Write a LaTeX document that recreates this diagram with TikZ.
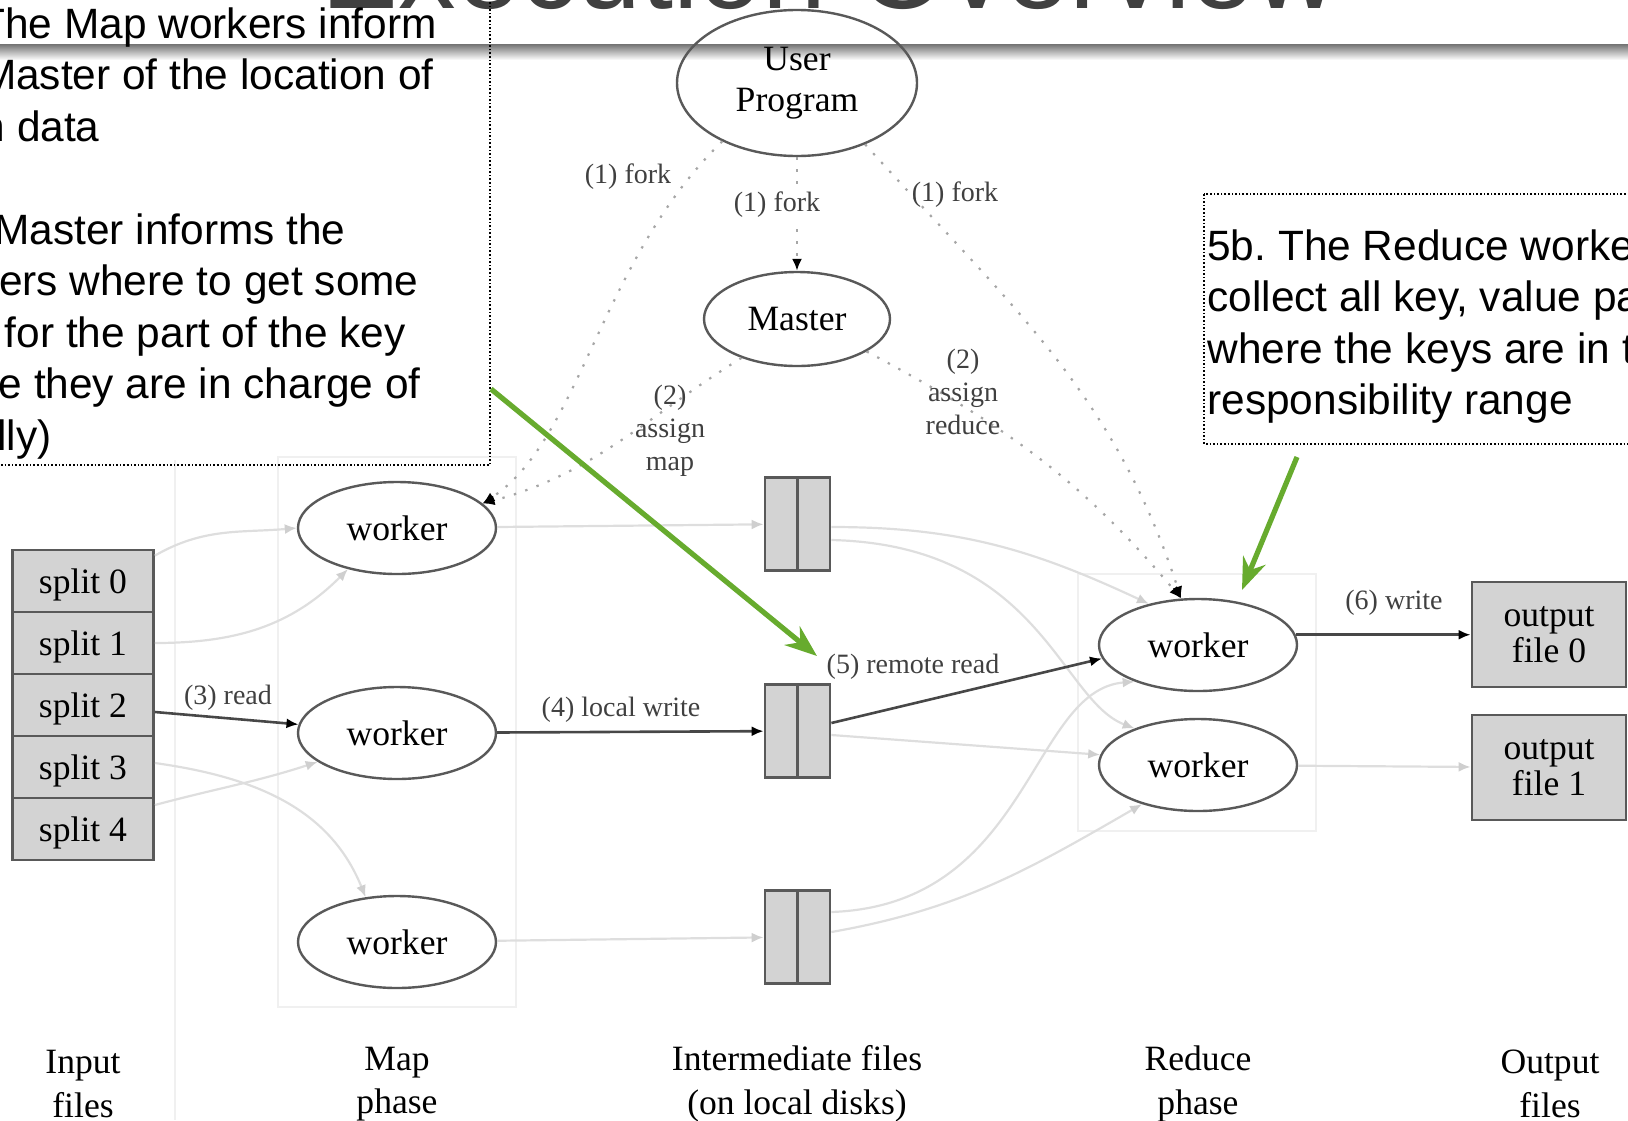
\documentclass[tikz,border=0pt]{standalone}
\usepackage{fontspec}
\setmainfont{Liberation Serif}
\newfontfamily\slidefont{Liberation Sans}
\usetikzlibrary{positioning,arrows.meta,shapes.geometric}
\frenchspacing

\definecolor{filegray}{HTML}{D3D3D3}
\definecolor{linegray}{HTML}{474747}
\definecolor{palegray}{HTML}{DEDEDE}
\definecolor{tipgray}{HTML}{CFCFCF}
\definecolor{hintgreen}{HTML}{67AB2E}

\begin{document}
\begin{tikzpicture}[x=0.5pt, y=-0.5pt,
    proc/.style={ellipse, draw=black!65, line width=1.2pt, inner sep=0pt,
      minimum width=99pt, minimum height=46pt, align=center,
      font=\fontsize{17.8}{20.8}\selectfont},
    filebox/.style={rectangle, draw=black!65, line width=1.4pt, fill=filegray,
      inner sep=0pt, align=center, text depth=0pt, font=\fontsize{17.8}{18}\selectfont},
    lbl/.style={inner sep=0pt, text=black!75, align=center,
      font=\fontsize{14}{16.5}\selectfont},
    phase/.style={inner sep=0pt, align=center,
      font=\fontsize{17.8}{21.8}\selectfont},
    note/.style={inner sep=0pt, font=\slidefont\fontsize{21.2}{25.75}\selectfont},
    notebox/.style={draw=black, densely dotted, line width=0.8pt},
    strong/.style={draw=linegray, line width=1.3pt,
      -{Latex[length=6pt,width=5pt,color=black]}},
    faint/.style={draw=palegray, line width=1.1pt,
      -{Latex[length=6pt,width=5pt,color=tipgray]}},
    ctrl/.style={draw=black!35, line width=1.1pt, dash pattern=on 1.2pt off 4.8pt,
      -{Latex[length=6pt,width=5pt,color=black]}},
    hint/.style={draw=hintgreen, line width=2.6pt,
      -{Stealth[length=16pt,width=12pt]}}
  ]
  \useasboundingbox (0,0) rectangle (1628,1120);
  \clip (0,0) rectangle (1628,1120);

  % faint phase columns
  \draw[black!6, line width=0.6pt] (278,457) rectangle (516,1007);
  \draw[black!6, line width=0.6pt] (1078,574) rectangle (1316,831);
  \draw[black!6, line width=0.6pt] (175,460) -- (175,1120);

  % slide header
  \node[anchor=base, inner sep=0pt, text=black!75,
    font=\slidefont\fontsize{57.5}{60}\selectfont] (title) at (830,8) {Execution Overview};
  \shade[top color=black!55, bottom color=white] (0,44) rectangle (1628,60);

  % notes
  \draw[notebox] (-10,-10) rectangle (490,465);
  \node[note, anchor=base east] (ln1) at (437,38) {The Map workers inform};
  \node[note, anchor=base east] (ln2) at (434,89.5) {Master of the location of};
  \node[note, anchor=base east] (ln3) at (100,141) {n data};
  \node[note, anchor=base east] (ln4) at (346,244) {Master informs the};
  \node[note, anchor=base east] (ln5) at (419,295.5) {ers where to get some};
  \node[note, anchor=base east] (ln6) at (406,347) {for the part of the key};
  \node[note, anchor=base east] (ln7) at (421,398.5) {e they are in charge of};
  \node[note, anchor=base east] (ln8) at (52,450) {lly)};

  \draw[notebox] (1204,194) rectangle (1640,444);
  \node[note, anchor=base west] (rn1) at (1207,260) {5b. The Reduce workers};
  \node[note, anchor=base west] (rn2) at (1207,311.5) {collect all key, value pairs};
  \node[note, anchor=base west] (rn3) at (1207,363) {where the keys are in their};
  \node[note, anchor=base west] (rn4) at (1207,414.5) {responsibility range};

  % processes
  \node[proc, minimum width=120pt, minimum height=73pt] (user) at (797,83) {User\\Program};
  \node[proc, minimum width=93pt, minimum height=47pt] (master) at (797,319) {Master};
  \node[proc] (w1) at (397,528) {worker};
  \node[proc] (w2) at (397,733) {worker};
  \node[proc] (w3) at (397,942) {worker};
  \node[proc] (r1) at (1198,645) {worker};
  \node[proc] (r2) at (1198,765) {worker};

  % files
  \foreach \i in {0,...,4}
    \node[filebox, minimum width=70.5pt, minimum height=31pt] (s\i) at (83,{581+62*\i}) {split \i};
  \foreach \n/\y in {1/524,2/731,3/937} {
    \node[filebox, minimum width=32.5pt, minimum height=46.5pt] (i\n) at (797.5,\y) {};
    \draw[black!65, line width=1.4pt] (i\n.north) -- (i\n.south);
  }
  \node[filebox, minimum width=77pt, minimum height=52.5pt] (o0) at (1549,634.5) {output\\file 0};
  \node[filebox, minimum width=77pt, minimum height=52.5pt] (o1) at (1549,767.5) {output\\file 1};

  % phase captions
  \node[phase] (pin) at (83,1084) {Input\\files};
  \node[phase] (pmap) at (397,1084) {Map\\phase};
  \node[phase] (pmid) at (797,1084) {Intermediate files\\(on local disks)};
  \node[phase] (pred) at (1198,1084) {Reduce\\phase};
  \node[phase] (pout) at (1550,1084) {Output\\files};

  % control (fork / assign)
  \draw[ctrl] (user) -- (master);
  \draw[ctrl] (user.218) .. controls (600,260) and (580,440) .. (w1.16);
  \draw[ctrl] (user.318) to[out=-48,in=108] (r1.110);
  \draw[ctrl] (master.215) to[out=212,in=15] (w1.16);
  \draw[ctrl] (master.335) to[out=-28,in=130] (r1.110);

  \node[lbl] (fk1) at (628,177) {(1) fork};
  \node[lbl, fill=white, inner sep=1pt] (fk2) at (777,205) {(1) fork};
  \node[lbl] (fk3) at (955,195) {(1) fork};
  \node[lbl] (asm) at (670,431) {(2)\\assign\\map};
  \node[lbl] (asr) at (963,392) {(2)\\assign\\reduce};

  % data flow
  \draw[faint] ([yshift=-3.5pt]s0.north east) to[out=30,in=185] (w1.west);
  \draw[faint] (s1.east) to[out=0,in=225] (w1.220);
  \draw[strong] ([yshift=-3.5pt]s2.east) -- (w2.175);
  \draw[faint] ([yshift=2pt]s3.east) to[out=-8,in=112] (w3.125);
  \draw[faint] ([yshift=12pt]s4.east) to[out=15,in=198] (w2.200);

  \draw[faint] (w1) -- (i1);
  \draw[strong] (w2) -- (i2);
  \draw[faint] (w3) -- (i3);

  \draw[faint] ([yshift=-1.5pt]i1.east) to[out=0,in=155] (r1.140);
  \draw[faint] ([yshift=-8pt]i1.east) .. controls (1040,545) and (1060,700) .. (r2.150);
  \draw[strong] ([yshift=4pt]i2.east) -- (r1.188);
  \draw[faint] ([yshift=-2pt]i2.east) -- (r2.174);
  \draw[faint] ([yshift=12.5pt]i3.east) .. controls (1030,905) and (1030,690) .. (r1.210);
  \draw[faint] ([yshift=2.5pt]i3.east) to[out=10,in=210] (r2.215);

  \draw[strong] (r1.6) -- (r1.6 -| o0.west);
  \draw[faint] (r2) -- (o1);

  \node[lbl] (rd) at (228,698) {(3) read};
  \node[lbl] (lw) at (621,710) {(4) local write};
  \node[lbl] (rr) at (913,667) {(5) remote read};
  \node[lbl] (wr) at (1394,603) {(6) write};

  % green pointers
  \coordinate (hintA) at (491,389);
  \coordinate (hintB) at (817,656);
  \coordinate (hintC) at (1297,457);
  \coordinate (hintD) at (1242,590);
  \draw[hint] (hintA) -- (hintB);
  \draw[hint] (hintC) -- (hintD);
\end{tikzpicture}
\end{document}
